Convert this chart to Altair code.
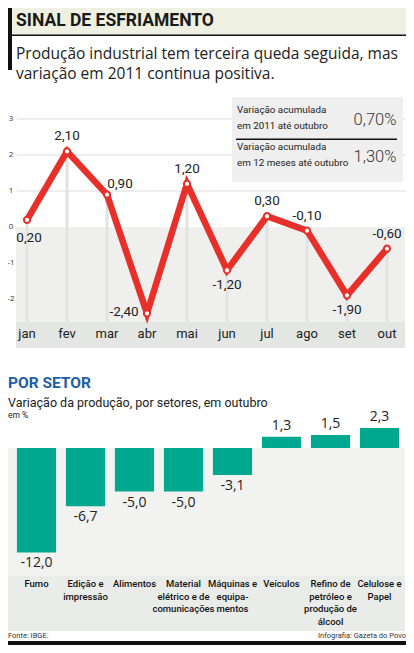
import altair as alt
import pandas as pd

# ---------------- data ----------------
months = ["jan", "fev", "mar", "abr", "mai", "jun", "jul", "ago", "set", "out"]
monthly = [0.20, 2.10, 0.90, -2.40, 1.20, -1.20, 0.30, -0.10, -1.90, -0.60]
monthly_labels = ["0,20", "2,10", "0,90", "-2,40", "1,20", "-1,20", "0,30", "-0,10", "-1,90", "-0,60"]
y_ticks = [3, 2, 1, 0, -1, -2]
grid_ticks = [3, 2, 1]

sectors = ["Fumo", "Edição e impressão", "Alimentos", "Material elétrico e de comunicações",
           "Máquinas e equipamentos", "Veículos", "Refino de petróleo e produção de álcool",
           "Celulose e Papel"]
sector_values = [-12.0, -6.7, -5.0, -5.0, -3.1, 1.3, 1.5, 2.3]
sector_value_labels = ["-12,0", "-6,7", "-5,0", "-5,0", "-3,1", "1,3", "1,5", "2,3"]
sector_tick_labels = ["Fumo", "Edição e\nimpressão", "Alimentos", "Material\nelétrico e de\ncomunicações",
                      "Máquinas e\nequipa-\nmentos", "Veículos", "Refino de\npetróleo e\nprodução de\nálcool",
                      "Celulose e\nPapel"]

box_labels = ["Variação acumulada\nem 2011 até outubro", "Variação acumulada\nem 12 meses até outubro"]
box_values = ["0,70%", "1,30%"]

# ---------------- styles ----------------
W, H = 398, 637
RED = "#e8302a"
TEAL = "#00a88f"
NARROW = "Roboto, Liberation Sans, sans-serif"
SANS = "Open Sans, Lato, sans-serif"
DARK = "#222222"

one = pd.DataFrame({"a": [0]})
df_m = pd.DataFrame({"month": months, "value": monthly, "label": monthly_labels})
df_b = pd.DataFrame({"sector": sectors, "value": sector_values, "label": sector_value_labels,
                     "tick": sector_tick_labels})
df_yt = pd.DataFrame({"t": y_ticks, "s": [str(t) for t in y_ticks]})
df_g = pd.DataFrame({"t": grid_ticks})


def rect(x1, x2, y1, y2, color):
    return alt.Chart(one).mark_rect(color=color).encode(
        x=alt.value(x1), x2=alt.value(x2), y=alt.value(y1), y2=alt.value(y2))


def txt(s, x, y, **kw):
    return alt.Chart(one).mark_text(**kw).encode(x=alt.value(x), y=alt.value(y), text=alt.value(s))


# scales (line chart)
XM = alt.Scale(type="point", domain=months, range=[19, 379], padding=0)
YM = alt.Scale(domain=[-3, 3], range=[327, 111], zero=False, nice=False)
xm = alt.X("month:N", scale=XM, axis=None)
ym = alt.Y("value:Q", scale=YM, axis=None)

# scales (bar chart)
XB = alt.Scale(type="band", domain=sectors, range=[4, 396], paddingInner=0.2, paddingOuter=0.1)
YB = alt.Scale(domain=[-15, 5], range=[570.5, 396.5], zero=False, nice=False)
xb = alt.X("sector:N", scale=XB, axis=None)
yb = alt.Y("value:Q", scale=YB, axis=None)

layers = []

# header
layers += [
    rect(4, W, 0, 27, "#eef1e1"),
    rect(4, W, 26.5, 28, "#111111"),
    rect(0, 4, 0, 62, "#111111"),
    txt("SINAL DE ESFRIAMENTO", 8, 18, font=NARROW, fontSize=17.5, fontWeight="bold",
        color="#1a1a1a", align="left", baseline="alphabetic"),
    txt("Produção industrial tem terceira queda seguida, mas", 8, 51, font=SANS, fontSize=15.5,
        color="#222222", align="left", baseline="alphabetic"),
    txt("variação em 2011 continua positiva.", 8, 71, font=SANS, fontSize=15.5,
        color="#222222", align="left", baseline="alphabetic"),
]

# line chart backgrounds
layers += [
    rect(8, 397, 219, 314, "#eff0ee"),
    rect(8, 397, 314, 340, "#e4e6e3"),
]
grid = alt.Chart(df_g).mark_rule(color="#dddddd", strokeWidth=1).encode(
    y=alt.Y("t:Q", scale=YM, axis=None), x=alt.value(9), x2=alt.value(398))
layers.append(grid)

# info box
layers += [
    rect(224, 395, 89, 174, "#efefef"),
    rect(228, 389, 130.5, 132, "#111111"),
]
for i, (lab, val) in enumerate(zip(box_labels, box_values)):
    y0 = 97 + i * 37
    layers.append(txt(lab, 229, y0, font=NARROW, fontSize=9.8, color=DARK, align="left",
                      baseline="top", lineBreak="\n", lineHeight=16))
    layers.append(txt(val, 367, y0 + 15, font=NARROW, fontSize=16.5, fontWeight=300, color="#333333",
                      align="center", baseline="middle"))

# line chart marks
base_m = alt.Chart(df_m)
layers.append(base_m.mark_rule(color="#e2e2e2", strokeWidth=3).encode(x=xm, y=ym, y2=alt.value(314)))
layers.append(base_m.mark_line(color=RED, strokeWidth=6.5).encode(x=xm, y=ym))
layers.append(base_m.mark_point(shape="circle", filled=True, fill="white", stroke=RED, strokeWidth=2,
                                size=38, opacity=1).encode(x=xm, y=ym))

label_groups = [
    (["fev", "mai", "jul", "ago", "out"], 0, -15),
    (["jun", "set"], 0, 15),
    (["jan"], 2, 18),
    (["mar"], 13, -11),
    (["abr"], -23, -1),
]
for members, dx, dy in label_groups:
    layers.append(base_m.transform_filter(alt.FieldOneOfPredicate(field="month", oneOf=members))
                  .mark_text(font=NARROW, fontSize=13.5, color=DARK, dx=dx, dy=dy, baseline="middle")
                  .encode(x=xm, y=ym, text="label:N"))

layers.append(alt.Chart(df_yt).mark_text(font=SANS, fontSize=8, color="#333333", align="center",
                                         baseline="middle")
              .encode(y=alt.Y("t:Q", scale=YM, axis=None), x=alt.value(3), text="s:N"))
layers.append(base_m.mark_text(font=NARROW, fontSize=13, color=DARK, baseline="middle")
              .encode(x=xm, y=alt.value(326), text="month:N"))

# bar section header
layers += [
    txt("POR SETOR", 0, 380, font=NARROW, fontSize=15.5, fontWeight="bold", color="#1d5fa8",
        align="left", baseline="alphabetic"),
    txt("Variação da produção, por setores, em outubro", 0, 399, font=NARROW, fontSize=12.5,
        color=DARK, align="left", baseline="alphabetic"),
    txt("em %", 0, 410, font=NARROW, fontSize=8.5, color=DARK, align="left", baseline="alphabetic"),
]

# bar backgrounds
layers += [
    rect(0, 397, 440, 568, "#f2f3f1"),
    rect(0, 397, 568, 623, "#eaecea"),
]
base_b = alt.Chart(df_b)
layers.append(base_b.mark_bar(color=TEAL).encode(x=xb, y=yb, y2=alt.datum(0)))
layers.append(base_b.transform_filter("datum.value < 0")
              .mark_text(font=SANS, fontSize=14, color=DARK, dy=11, baseline="middle")
              .encode(x=xb, y=yb, text="label:N"))
layers.append(base_b.transform_filter("datum.value >= 0")
              .mark_text(font=SANS, fontSize=14, color=DARK, dy=-11, baseline="middle")
              .encode(x=xb, y=yb, text="label:N"))
layers.append(base_b.mark_text(font=NARROW, fontSize=9.5, fontWeight=500, color="#111111",
                               baseline="top", lineBreak="\n", lineHeight=12.5)
              .encode(x=xb, y=alt.value(571), text="tick:N"))

# footer
layers += [
    txt("Fonte: IBGE.", 0, 630, font=NARROW, fontSize=7.5, color="#333333", align="left",
        baseline="alphabetic"),
    txt("Infografia: Gazeta do Povo", W, 630, font=NARROW, fontSize=7.5, color="#333333",
        align="right", baseline="alphabetic"),
    rect(0, W, 633, H, "#111111"),
]

chart = alt.layer(*layers).resolve_scale(x="independent", y="independent").properties(
    width=W, height=H, padding=0, autosize=alt.AutoSizeParams(type="none"),
    background="white"
).configure_view(stroke=None)

chart.save("out.html", embed_options={"renderer": "svg", "actions": False})
